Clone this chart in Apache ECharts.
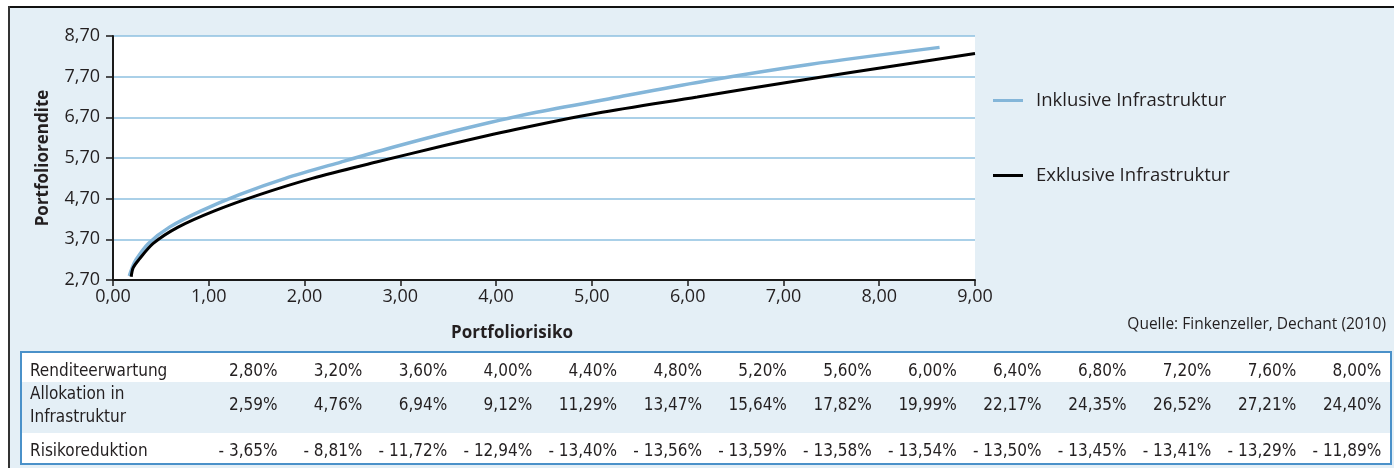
<!DOCTYPE html>
<html>
<head>
<meta charset="utf-8">
<script src="https://cdn.jsdelivr.net/npm/echarts@6/dist/echarts.min.js"></script>
<style>
  html, body { margin: 0; padding: 0; background: #fff; }
  #chart { width: 1394px; height: 468px; }
</style>
</head>
<body>
<div id="chart"></div>
<script>
// Efficient frontier: portfolio risk (x) vs. portfolio return (y)
const riskInkl   = [0.17, 0.20, 0.24, 0.37, 0.59, 0.92, 1.32, 1.80, 2.38, 2.98, 3.63, 4.37, 5.28, 6.20, 7.27, 8.63];
const returnInkl = [2.80, 3.00, 3.20, 3.60, 4.00, 4.40, 4.80, 5.20, 5.60, 6.00, 6.40, 6.80, 7.20, 7.60, 8.00, 8.42];
const riskExkl   = [0.19, 0.21, 0.27, 0.42, 0.68, 1.06, 1.53, 2.08, 2.75, 3.45, 4.20, 5.05, 6.10, 7.15, 8.25, 9.00];
const returnExkl = [2.78, 3.00, 3.20, 3.60, 4.00, 4.40, 4.80, 5.20, 5.60, 6.00, 6.40, 6.80, 7.20, 7.60, 8.00, 8.27];

const seriesNames = ['Inklusive Infrastruktur', 'Exklusive Infrastruktur'];

// Table below the chart
const renditeerwartung = [2.80, 3.20, 3.60, 4.00, 4.40, 4.80, 5.20, 5.60, 6.00, 6.40, 6.80, 7.20, 7.60, 8.00];
const allokation       = [2.59, 4.76, 6.94, 9.12, 11.29, 13.47, 15.64, 17.82, 19.99, 22.17, 24.35, 26.52, 27.21, 24.40];
const risikoreduktion  = [-3.65, -8.81, -11.72, -12.94, -13.40, -13.56, -13.59, -13.58, -13.54, -13.50, -13.45, -13.41, -13.29, -11.89];
const rowLabels = ['Renditeerwartung', 'Allokation in\nInfrastruktur', 'Risikoreduktion'];

const sourceText = 'Quelle: Finkenzeller, Dechant (2010)';

const FONT = "'Open Sans', 'Noto Sans', sans-serif";
const TABLE_FONT = "'Liberation Sans Narrow', 'DejaVu Sans Condensed', 'Liberation Sans', sans-serif";
const TEXT = '#231f20';
const BG = '#e4eff6';

const comma = (v, d) => v.toFixed(d).replace('.', ',');
const pct = v => (v < 0 ? '- ' + comma(-v, 2) : comma(v, 2)) + '%';

const chart = echarts.init(document.getElementById('chart'), null, { renderer: 'canvas' });

// table layout: row bands and the vertical text position inside each band
const tbl = { x: 21, y: 352, w: 1370, h: 112,
              rows: [ [352, 382], [382, 433], [433, 464] ],
              textY: [372, 406, 452] };
const colRight0 = 277.5, colStep = 84.9;
const tableGraphics = [];
tbl.rows.forEach((r, i) => {
  tableGraphics.push({
    type: 'rect', silent: true,
    shape: { x: tbl.x, y: r[0], width: tbl.w, height: r[1] - r[0] },
    style: { fill: i === 1 ? BG : '#fff' }
  });
});
tableGraphics.push({
  type: 'rect', silent: true, z: 10,
  shape: { x: tbl.x, y: tbl.y, width: tbl.w, height: tbl.h },
  style: { fill: null, stroke: '#4a91c9', lineWidth: 2 }
});
const rowValues = [renditeerwartung.map(pct), allokation.map(pct), risikoreduktion.map(pct)];
rowValues.forEach((vals, ri) => {
  const cy = tbl.textY[ri];
  tableGraphics.push({
    type: 'text', silent: true, z: 11,
    style: { x: 30, y: cy, text: rowLabels[ri], fill: TEXT, font: '17px ' + TABLE_FONT,
             verticalAlign: 'middle', align: 'left', lineHeight: 23 }
  });
  vals.forEach((t, ci) => {
    tableGraphics.push({
      type: 'text', silent: true, z: 11,
      style: { x: colRight0 + colStep * ci, y: cy, text: t, fill: TEXT, font: '17px ' + TABLE_FONT,
               verticalAlign: 'middle', align: 'right' }
    });
  });
});

const option = {
  animation: false,
  backgroundColor: BG,
  textStyle: { fontFamily: FONT },
  grid: { left: 113, right: 419, top: 36, bottom: 188, show: true, backgroundColor: '#fff', borderWidth: 0 },
  legend: {
    orient: 'vertical', left: 993, top: 91, padding: 0,
    itemWidth: 30, itemHeight: 3, itemGap: 56, icon: 'rect',
    textStyle: { fontSize: 18.5, color: TEXT, fontFamily: FONT, padding: [0, 0, 0, 8] },
    data: seriesNames
  },
  xAxis: {
    type: 'value', min: 0, max: 9, interval: 1,
    axisLine: { show: true, onZero: false, lineStyle: { color: '#1a1a1a', width: 2 } },
    axisTick: { show: true, length: 6, lineStyle: { color: '#1a1a1a', width: 1.5 } },
    axisLabel: { formatter: v => comma(v, 2), color: TEXT, fontSize: 18, margin: 8, fontFamily: FONT },
    splitLine: { show: false },
    name: 'Portfoliorisiko', nameLocation: 'middle', nameGap: 45,
    nameTextStyle: { fontWeight: 'bold', fontSize: 17, color: TEXT, fontFamily: FONT, padding: [0, 64, 0, 0] }
  },
  yAxis: {
    type: 'value', min: 2.7, max: 8.7, interval: 1,
    axisLine: { show: true, onZero: false, lineStyle: { color: '#1a1a1a', width: 2 } },
    axisTick: { show: true, length: 7, lineStyle: { color: '#1a1a1a', width: 1.5 } },
    axisLabel: { formatter: v => comma(v, 2), color: TEXT, fontSize: 18, margin: 13, fontFamily: FONT },
    splitLine: { show: true, lineStyle: { color: '#8ec0e0', width: 1.5 } },
    name: 'Portfoliorendite', nameLocation: 'middle', nameGap: 45, nameRotate: 90,
    nameTextStyle: { fontWeight: 'bold', fontSize: 17, color: TEXT, fontFamily: FONT, padding: [0, 0, 16, 0] }
  },
  series: [
    {
      name: seriesNames[0], type: 'line', symbol: 'none', smooth: 0.3,
      data: riskInkl.map((x, i) => [x, returnInkl[i]]),
      lineStyle: { color: '#84b6d9', width: 3.5 }, itemStyle: { color: '#84b6d9' }, z: 2
    },
    {
      name: seriesNames[1], type: 'line', symbol: 'none', smooth: 0.3,
      data: riskExkl.map((x, i) => [x, returnExkl[i]]),
      lineStyle: { color: '#000', width: 3 }, itemStyle: { color: '#000' }, z: 3
    }
  ],
  graphic: [
    { type: 'rect', silent: true, shape: { x: 0, y: 0, width: 1394, height: 6 }, style: { fill: '#fff' } },
    { type: 'rect', silent: true, shape: { x: 0, y: 0, width: 8, height: 468 }, style: { fill: '#fff' } },
    { type: 'line', silent: true, shape: { x1: 8, y1: 7, x2: 1394, y2: 7 }, style: { stroke: '#111', lineWidth: 2 } },
    { type: 'line', silent: true, shape: { x1: 9, y1: 6, x2: 9, y2: 468 }, style: { stroke: '#333', lineWidth: 2 } },
    { type: 'text', silent: true,
      style: { x: 1386, y: 325, text: sourceText, fill: TEXT, font: '15.5px ' + FONT, align: 'right', verticalAlign: 'middle' } },
    ...tableGraphics
  ]
};
chart.setOption(option);
</script>
</body>
</html>
